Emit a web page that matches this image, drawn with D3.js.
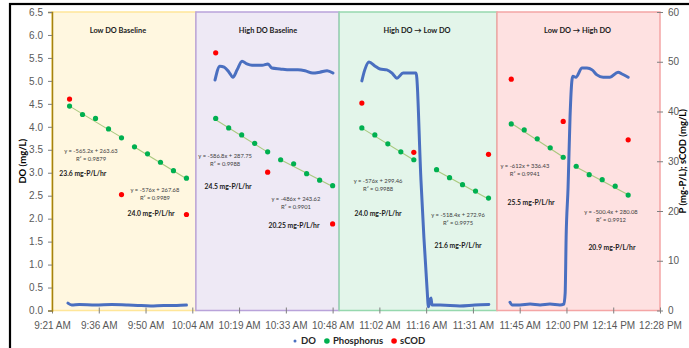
<!DOCTYPE html>
<html>
<head>
<meta charset="utf-8">
<script src="https://cdn.jsdelivr.net/npm/d3@7"></script>
<style>
  body { margin: 0; background: #fff; }
  svg { font-family: Lato, "Open Sans", sans-serif; }
  .tick text { fill: #595959; font-size: 10px; }
  .tick line { stroke: #7f7f7f; }
  .eq { font-size: 5.8px; fill: #404040; }
  .rate { font-size: 6.8px; font-weight: bold; fill: #1a1a1a; }
  .ptitle { font-size: 7.4px; font-weight: bold; fill: #1a1a1a; }
  .axis-title { font-size: 9.5px; font-weight: bold; fill: #000; }
  .legend text { font-size: 9.5px; font-weight: bold; fill: #262626; }
</style>
</head>
<body>
<div id="chart-container"></div>
<script>
// ---- data (times as clock strings) ----
const panelNames = ["Low DO Baseline", "High DO Baseline", "High DO \u2192 Low DO", "Low DO \u2192 High DO"];
const panelStart = ["9:21:36", "10:05:54", "10:50:00", "11:38:36"];
const panelEnd = ["10:05:54", "10:50:00", "11:38:36", "12:28:48"];

const xTickLabels = ["9:21 AM", "9:36 AM", "9:50 AM", "10:04 AM", "10:19 AM", "10:33 AM", "10:48 AM",
  "11:02 AM", "11:16 AM", "11:31 AM", "11:45 AM", "12:00 PM", "12:14 PM", "12:28 PM"];
const doTicks = [0, 0.5, 1, 1.5, 2, 2.5, 3, 3.5, 4, 4.5, 5, 5.5, 6, 6.5];
const pTicks = [0, 10, 20, 30, 40, 50, 60];

// DO (mg/L), one array per phase
const doLowBase = [["9:26:30", 0.16], ["9:27:40", 0.12], ["9:30", 0.13], ["9:35", 0.12], ["9:40", 0.13],
  ["9:45", 0.12], ["9:48", 0.11], ["9:52", 0.10], ["9:56", 0.11], ["10:00", 0.11], ["10:03", 0.12]];
const doHighBase = [["10:11:48", 5.02], ["10:13:18", 5.32], ["10:14:36", 5.30], ["10:16:06", 5.19], ["10:17:18", 5.08],
  ["10:18:36", 5.24], ["10:20:06", 5.43], ["10:21:36", 5.37], ["10:23:12", 5.34], ["10:26:18", 5.34],
  ["10:28:06", 5.37], ["10:29:18", 5.28], ["10:31:48", 5.26], ["10:34:54", 5.24], ["10:37:18", 5.24],
  ["10:39:30", 5.22], ["10:41:54", 5.17], ["10:44:06", 5.19], ["10:46:18", 5.22], ["10:48:06", 5.17]];
const doHighToLow = [["10:57:00", 5.00], ["10:57:54", 5.24], ["10:59:12", 5.41], ["11:01:06", 5.32], ["11:02:36", 5.26],
  ["11:04:42", 5.24], ["11:06:18", 5.17], ["11:07:48", 5.06], ["11:09:42", 5.17], ["11:11:48", 5.17],
  ["11:13:42", 5.17], ["11:15:12", 2.84], ["11:16:06", 1.60], ["11:17:06", 0.45], ["11:17:30", 0.08],
  ["11:18:00", 0.23], ["11:18:18", 0.27], ["11:18:36", 0.12], ["11:21:06", 0.12], ["11:27:12", 0.10],
  ["11:31:48", 0.12], ["11:36:06", 0.13]];
const doLowToHigh = [["11:42:36", 0.18], ["11:43:12", 0.12], ["11:45:42", 0.12], ["11:48:48", 0.14], ["11:51:54", 0.12],
  ["11:54:54", 0.14], ["11:58:00", 0.12], ["11:59:12", 0.14], ["11:59:36", 0.38], ["11:59:54", 1.60],
  ["12:00:30", 2.69], ["12:01:06", 4.21], ["12:01:42", 5.02], ["12:02:00", 5.10], ["12:02:54", 5.08],
  ["12:04:48", 5.28], ["12:06:18", 5.28], ["12:07:54", 5.24], ["12:09:24", 5.13], ["12:11:18", 5.08],
  ["12:13:24", 5.08], ["12:15:54", 5.19], ["12:17:06", 5.15], ["12:19:00", 5.08]];

// Phosphorus (mg-P/L)
const phosTimes = [
  ["9:27", "9:31", "9:35", "9:39", "9:43", "9:47", "9:51", "9:55", "9:59", "10:03"],
  ["10:12", "10:16", "10:20", "10:24", "10:28", "10:32", "10:36", "10:40", "10:44", "10:48"],
  ["10:57", "11:01", "11:05", "11:09", "11:13", "11:20", "11:24", "11:28", "11:32", "11:36"],
  ["11:43", "11:47", "11:51", "11:55", "11:59", "12:03", "12:07", "12:11", "12:15", "12:19"]];
const phosValues = [
  [41.1, 39.4, 38.6, 36.5, 34.7, 32.9, 31.5, 29.8, 28.1, 26.6],
  [38.6, 36.7, 35.3, 33.6, 31.9, 30.3, 29.5, 27.5, 26.2, 25.1],
  [36.7, 35.3, 33.5, 31.9, 30.3, 28.3, 26.7, 25.3, 24.0, 22.6],
  [37.5, 36.3, 34.5, 32.7, 30.8, 29.0, 27.3, 26.3, 25.0, 23.2]];

// sCOD (mg/L)
const scodTimes = [["9:27", "9:43", "10:03"], ["10:12", "10:28", "10:48"], ["10:57", "11:13", "11:36"], ["11:43", "11:59", "12:19"]];
const scodValues = [[42.5, 23.3, 19.3], [51.8, 27.8, 17.4], [41.7, 31.8, 31.4], [46.5, 38.0, 34.3]];

// linear trendlines (x in days), two per phase: first 5 and last 5 samples
const trendSlope = [[-565.2, -576], [-586.8, -486], [-576, -518.4], [-612, -500.4]];
const trendIntercept = [[263.63, 267.68], [287.75, 243.62], [299.46, 272.96], [336.43, 280.08]];
const trendR2 = [["0.9879", "0.9989"], ["0.9988", "0.9901"], ["0.9988", "0.9975"], ["0.9941", "0.9912"]];
const rateLabels = [["23.6", "24.0"], ["24.5", "20.25"], ["24.0", "21.6"], ["25.5", "20.9"]];

// ---- layout ----
const W = 689, H = 348;
const margin = { top: 12, right: 29, bottom: 37.5, left: 52 };
const width = W - margin.left - margin.right;
const height = H - margin.top - margin.bottom;

const panelFill = ["#fff7e0", "#eee9f5", "#e3f5ea", "#fee1e1"];
const panelStroke = ["#ffe699", "#b9a3da", "#96d8ae", "#f4a5a5"];

// where annotation texts sit, in chart units (minutes, P axis)
const titleAt = [581.9, 628.1, 674.0, 723.4];
const eqAt = [[[573.6, 32.1], [593.3, 24.3]], [[614.9, 31.1], [636.7, 22.5]], [[662.0, 26.0], [686.6, 19.2]], [[707.2, 29.1], [733.7, 19.7]]];
const rateAt = [[[571.1, 27.6], [592.1, 19.5]], [[615.8, 24.9], [636.1, 17.1]], [[662.0, 19.5], [686.6, 13.0]], [[709.1, 21.7], [734.0, 12.7]]];

function toMin(s) {
  const p = s.split(":").map(Number);
  return p[0] * 60 + p[1] + (p[2] || 0) / 60;
}

const svg = d3.select("#chart-container").append("svg")
  .attr("width", W).attr("height", H);

svg.append("rect").attr("x", 0).attr("y", 0).attr("width", W).attr("height", H).attr("fill", "#fff");
// outer chart border
svg.append("rect").attr("x", 10).attr("y", 4).attr("width", 720).attr("height", 400)
  .attr("fill", "none").attr("stroke", "#000").attr("stroke-width", 2.2);

const x = d3.scaleLinear().domain([toMin("9:21:36"), toMin("12:28:48")]).range([0, width]);
const yDO = d3.scaleLinear().domain([0, 6.5]).range([height, 0]);
const yP = d3.scaleLinear().domain([0, 60]).range([height, 0]);

const g = svg.append("g").attr("transform", `translate(${margin.left},${margin.top})`);

// phase panels
const panels = panelNames.map((name, i) => ({ name, i, s: toMin(panelStart[i]), e: toMin(panelEnd[i]) }));
g.selectAll(".panel").data(panels).enter().append("rect")
  .attr("class", "panel")
  .attr("x", d => x(d.s)).attr("y", 0)
  .attr("width", d => x(d.e) - x(d.s)).attr("height", height)
  .attr("fill", d => panelFill[d.i])
  .attr("stroke", d => panelStroke[d.i]).attr("stroke-width", 1.5);

g.selectAll(".ptitle").data(panels).enter().append("text")
  .attr("class", "ptitle")
  .attr("x", d => x(titleAt[d.i])).attr("y", yP(56.2))
  .attr("text-anchor", "middle").attr("dominant-baseline", "middle")
  .text(d => d.name);

// axes
const tickMins = xTickLabels.map((_, i) => toMin("9:21:36") + i * 14.4);
const xAxis = g.append("g").attr("transform", `translate(0,${height})`)
  .call(d3.axisBottom(x).tickValues(tickMins).tickFormat((d, i) => xTickLabels[i]).tickSize(3).tickPadding(8));
xAxis.select(".domain").remove();
xAxis.selectAll(".tick line").attr("y1", -3).attr("y2", 3);

const yAxisL = g.append("g")
  .call(d3.axisLeft(yDO).tickValues(doTicks).tickFormat(d3.format(".1f")).tickSize(4).tickPadding(5));
yAxisL.select(".domain").attr("stroke", "#a5820f").attr("stroke-width", 1.5);

const yAxisR = g.append("g").attr("transform", `translate(${width},0)`)
  .call(d3.axisRight(yP).tickValues(pTicks).tickSize(3).tickPadding(5));
yAxisR.select(".domain").remove();
yAxisR.selectAll(".tick line").attr("x1", -3).attr("x2", 3);

svg.append("text").attr("class", "axis-title")
  .attr("transform", `translate(26,${margin.top + height / 2}) rotate(-90)`)
  .attr("text-anchor", "middle").text("DO (mg/L)");
svg.append("text").attr("class", "axis-title")
  .attr("transform", `translate(686,${margin.top + height / 2}) rotate(-90)`)
  .attr("text-anchor", "middle").text("P (mg-P/L); sCOD (mg/L)");

// trendlines
const trendSegs = [];
phosTimes.forEach((times, p) => {
  [[0, 4], [5, 9]].forEach((r, k) => {
    const t0 = toMin(times[r[0]]), t1 = toMin(times[r[1]]);
    const f = t => trendSlope[p][k] * (t / 1440) + trendIntercept[p][k];
    trendSegs.push({ t0, t1, v0: f(t0), v1: f(t1) });
  });
});
g.selectAll(".trend").data(trendSegs).enter().append("line")
  .attr("class", "trend")
  .attr("x1", d => x(d.t0)).attr("y1", d => yP(d.v0))
  .attr("x2", d => x(d.t1)).attr("y2", d => yP(d.v1))
  .attr("stroke", "#a9c97e").attr("stroke-width", 1.1);

// DO line
const doLine = d3.line().x(d => x(toMin(d[0]))).y(d => yDO(d[1])).curve(d3.curveMonotoneX);
[doLowBase, doHighBase, doHighToLow, doLowToHigh].forEach(series => {
  g.append("path").datum(series)
    .attr("d", doLine)
    .attr("fill", "none").attr("stroke", "#4a6fc0")
    .attr("stroke-width", 3).attr("stroke-linejoin", "round").attr("stroke-linecap", "round");
});

// phosphorus & sCOD points
const phos = phosTimes.flatMap((times, p) => times.map((t, i) => ({ t: toMin(t), v: phosValues[p][i] })));
g.selectAll(".phos").data(phos).enter().append("circle")
  .attr("cx", d => x(d.t)).attr("cy", d => yP(d.v)).attr("r", 2.6).attr("fill", "#00b050");
const scod = scodTimes.flatMap((times, p) => times.map((t, i) => ({ t: toMin(t), v: scodValues[p][i] })));
g.selectAll(".scod").data(scod).enter().append("circle")
  .attr("cx", d => x(d.t)).attr("cy", d => yP(d.v)).attr("r", 2.6).attr("fill", "#ff0000");

// equation + rate labels
trendSlope.forEach((slopes, p) => {
  slopes.forEach((s, k) => {
    const [em, ev] = eqAt[p][k];
    const t = g.append("text").attr("class", "eq").attr("text-anchor", "middle")
      .attr("x", x(em)).attr("y", yP(ev) + 2);
    t.append("tspan").attr("x", x(em)).text(`y = ${s}x + ${trendIntercept[p][k]}`);
    t.append("tspan").attr("x", x(em)).attr("dy", 8).text(`R\u00b2 = ${trendR2[p][k]}`);
    const [rm, rv] = rateAt[p][k];
    g.append("text").attr("class", "rate").attr("text-anchor", "middle")
      .attr("x", x(rm)).attr("y", yP(rv) + 2.4)
      .text(`${rateLabels[p][k]} mg-P/L/hr`);
  });
});

// legend
const legendItems = [["DO", "#4a6fc0", 1.5], ["Phosphorus", "#00b050", 2.8], ["sCOD", "#ff0000", 2.8]];
const lg = svg.append("g").attr("class", "legend").attr("transform", "translate(295,341)");
let lx = 0;
legendItems.forEach(([name, col, r]) => {
  lg.append("circle").attr("cx", lx).attr("cy", 0).attr("r", r).attr("fill", col);
  const tx = lg.append("text").attr("x", lx + 6).attr("y", 3.4).text(name);
  lx += 6 + tx.node().getComputedTextLength() + 11;
});
</script>
</body>
</html>
